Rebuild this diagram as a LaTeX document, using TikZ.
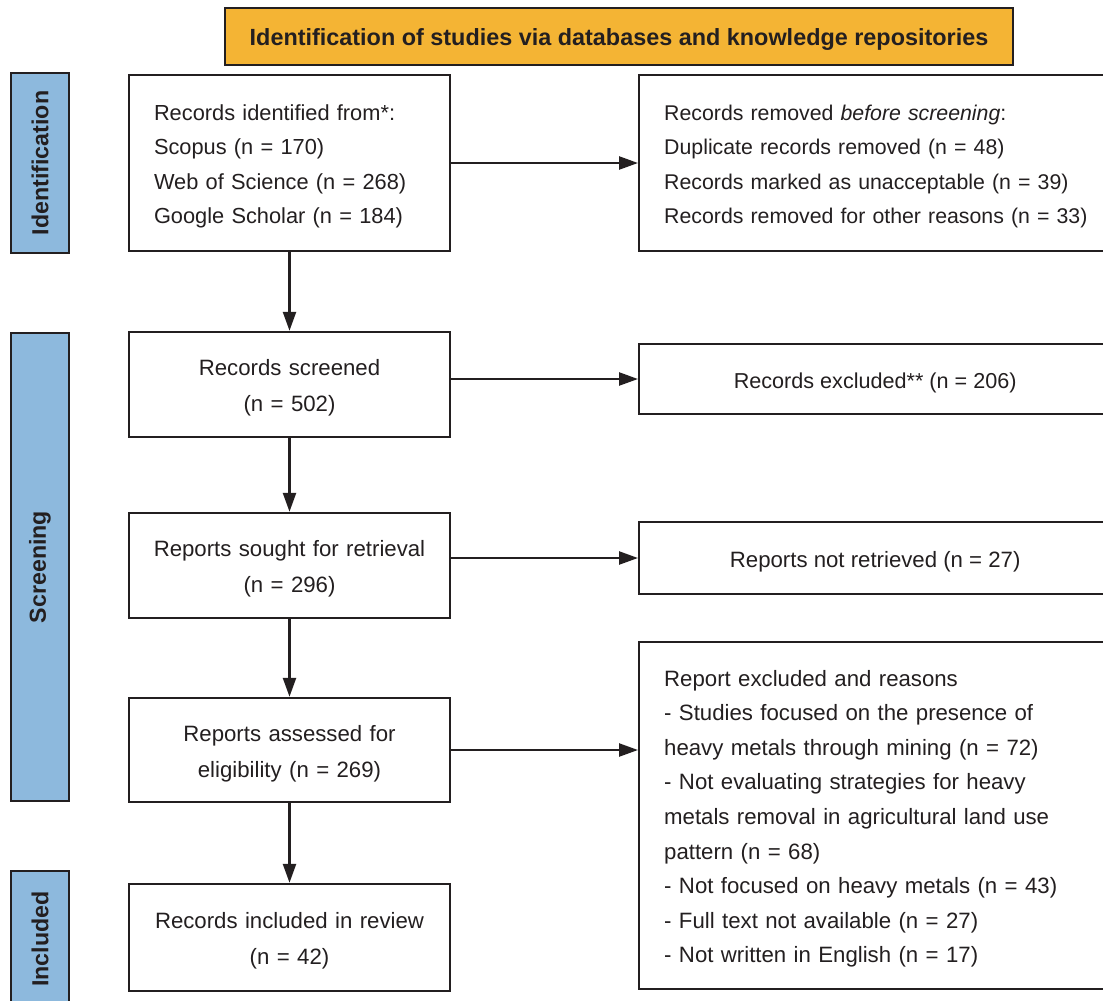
\documentclass[tikz,border=0pt]{standalone}
\usepackage{fontspec}
\setmainfont{Liberation Sans}
\usetikzlibrary{arrows.meta}
\definecolor{prismaorange}{HTML}{F4B434}
\definecolor{prismablue}{HTML}{8DB9DD}
\definecolor{prismaink}{HTML}{231F20}
\newcommand{\boxstrut}{\rule{0pt}{11.3pt}}
\tikzset{
box/.style={draw=prismaink, line width=1.2pt, fill=white, text=prismaink, inner xsep=12.5pt, inner ysep=0pt, font=\fontsize{11.1}{17.3}\selectfont, execute at begin node=\boxstrut},
mainbox/.style={box, text width=150pt, inner xsep=5.25pt, align=center, font=\fontsize{11.1}{18}\selectfont},
phase/.style={draw=prismaink, line width=1.2pt, fill=prismablue, text=prismaink, rotate=90, minimum height=29pt, inner sep=0pt, font=\bfseries\fontsize{11.6}{14}\selectfont},
flow/.style={draw=prismaink, line width=1.2pt, -{Triangle[length=9.5pt,width=6.5pt]}}
}
\begin{document}
\begin{tikzpicture}[x=0.5pt,y=-0.5pt]
\useasboundingbox (0,0) rectangle (1103,1001);
\clip (0,0) rectangle (1103,1001);
% banner
\node[box, fill=prismaorange, minimum width=388pt, minimum height=28.5pt, font=\bfseries\fontsize{11.7}{14}\selectfont] (banner) at (619,36.5) {Identification of studies via databases and knowledge repositories};
% phases
\foreach \name/\y/\len in {Identification/163/90pt, Screening/567/234pt, Included/939/68pt}{
\node[phase, minimum width=\len] (\name) at (40,\y) {\name};
}
% main column
\node[box, text width=135.5pt, align=left, minimum height=88pt, font=\fontsize{10.9}{17.3}\selectfont] (identified) at (289.5,163) {Records identified from*:\\ Scopus (n = 170)\\ Web of Science (n = 268)\\ Google Scholar (n = 184)};
\node[mainbox, minimum height=52.5pt] (screened) at (289.5,384.5) {Records screened\\ (n = 502)};
\node[mainbox, minimum height=52.5pt] (sought) at (289.5,565.5) {Reports sought for retrieval\\ (n = 296)};
\node[mainbox, minimum height=52pt] (assessed) at (289.5,750) {Reports assessed for\\ eligibility (n = 269)};
\node[mainbox, minimum height=53.5pt] (included) at (289.5,937.5) {Records included in review\\ (n = 42)};
% side column
\node[box, anchor=west, text width=222pt, align=left, minimum height=88pt, font=\fontsize{10.65}{17.3}\selectfont] (removed) at (638,163) {Records removed \textit{before screening}:\\ Duplicate records removed (n = 48)\\ Records marked as unacceptable (n = 39)\\ Records removed for other reasons (n = 33)};
\node[box, anchor=west, align=center, minimum width=236pt, minimum height=35pt, font=\fontsize{10.8}{17.3}\selectfont] (excluded) at (638,379) {Records excluded** (n = 206)};
\node[box, anchor=west, align=center, minimum width=236pt, minimum height=36pt] (notretrieved) at (638,558) {Reports not retrieved (n = 27)};
\node[box, anchor=west, text width=222pt, align=left, minimum height=173.5pt] (reasons) at (638,815.5) {Report excluded and reasons\\ - Studies focused on the presence of\\ heavy metals through mining (n = 72)\\ - Not evaluating strategies for heavy\\ metals removal in agricultural land use\\ pattern (n = 68)\\ - Not focused on heavy metals (n = 43)\\ - Full text not available (n = 27)\\ - Not written in English (n = 17)};
% connectors
\draw[flow] (identified.south) -- (screened.north);
\draw[flow] (screened.south) -- (sought.north);
\draw[flow] (sought.south) -- (assessed.north);
\draw[flow] (assessed.south) -- (included.north);
\draw[flow] (identified.east) -- (removed.west);
\draw[flow] (screened.east |- excluded.west) -- (excluded.west);
\draw[flow] (sought.east |- notretrieved.west) -- (notretrieved.west);
\draw[flow] (assessed.east) -- (assessed.east -| reasons.west);
\end{tikzpicture}
\end{document}
